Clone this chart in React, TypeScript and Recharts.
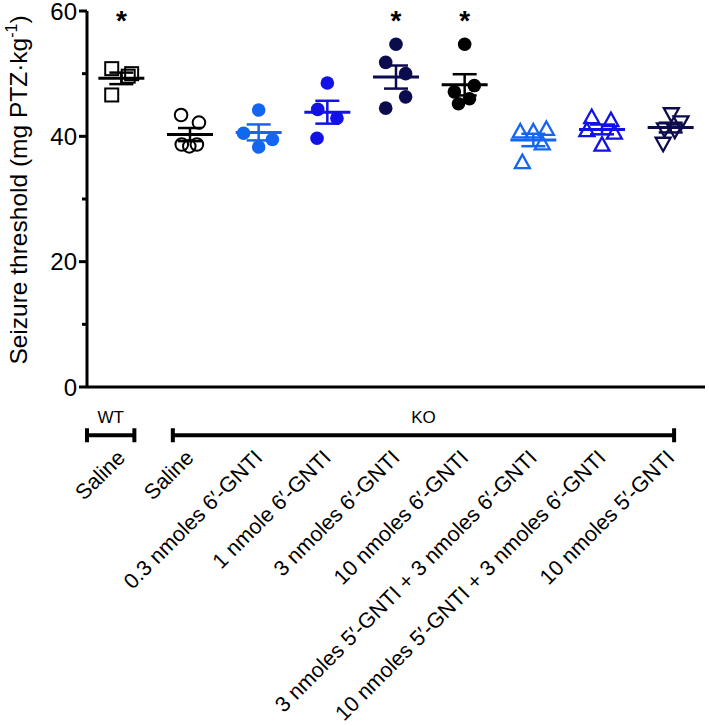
import React from 'react';
import { ScatterChart, Scatter, XAxis, YAxis, ErrorBar, ReferenceLine } from 'recharts';

const FONT = '"Liberation Sans", Arial, sans-serif';

// group labels (x axis)
const groupLabels = [
  'Saline',
  'Saline',
  '0.3 nmoles 6\u2032-GNTI',
  '1 nmole 6\u2032-GNTI',
  '3 nmoles 6\u2032-GNTI',
  '10 nmoles 6\u2032-GNTI',
  '3 nmoles 5\u2032-GNTI + 3 nmoles 6\u2032-GNTI',
  '10 nmoles 5\u2032-GNTI + 3 nmoles 6\u2032-GNTI',
  '10 nmoles 5\u2032-GNTI',
];

// individual animals, mg PTZ/kg
const wtSaline = [50.8, 49.6, 50.0, 46.6];
const koSaline = [43.4, 42.2, 38.7, 38.4, 38.7];
const gnti6_03 = [44.2, 40.5, 39.5, 38.3];
const gnti6_1 = [48.5, 44.3, 42.9, 39.7];
const gnti6_3 = [54.7, 51.8, 50.0, 46.3, 44.5];
const gnti6_10 = [54.7, 48.1, 47.1, 46.0, 45.2];
const gnti5_3_6_3 = [40.7, 40.7, 41.1, 38.8, 35.8];
const gnti5_10_6_3 = [43.0, 42.5, 40.9, 40.5, 38.6];
const gnti5_10 = [43.6, 42.3, 41.2, 41.0, 38.9];

// horizontal scatter of the dots inside each column (category units)
const jitWt = [-0.14, 0.1, 0.15, -0.14];
const jitKo = [-0.13, 0.13, -0.12, -0.01, 0.1];
const jit03 = [0, -0.22, 0.2, 0];
const jit1 = [0, -0.14, 0.14, -0.15];
const jit3 = [0, -0.15, 0.14, 0.14, -0.15];
const jit10 = [0, 0.14, -0.15, 0.07, -0.09];
const jit33 = [-0.19, 0, 0.19, 0.13, -0.16];
const jit103 = [-0.15, 0.13, -0.22, 0.18, 0];
const jit510 = [0.01, 0.15, -0.09, 0.06, -0.11];

const significant = [true, false, false, false, true, true, false, false, false];

const genotypes = [
  { name: 'WT', from: -0.5, to: 0.19 },
  { name: 'KO', from: 0.75, to: 8.05 },
];

const BLACK = '#000000';
const SKY = '#1466f0';
const BLUE = '#1212e6';
const NAVY = '#0b0b4e';

const groups = [
  { values: wtSaline, jitter: jitWt, color: BLACK, marker: 'square' },
  { values: koSaline, jitter: jitKo, color: BLACK, marker: 'ring' },
  { values: gnti6_03, jitter: jit03, color: SKY, marker: 'dot' },
  { values: gnti6_1, jitter: jit1, color: BLUE, marker: 'dot' },
  { values: gnti6_3, jitter: jit3, color: NAVY, marker: 'dot' },
  { values: gnti6_10, jitter: jit10, color: BLACK, marker: 'dot' },
  { values: gnti5_3_6_3, jitter: jit33, color: SKY, marker: 'up' },
  { values: gnti5_10_6_3, jitter: jit103, color: BLUE, marker: 'up' },
  { values: gnti5_10, jitter: jit510, color: NAVY, marker: 'down' },
];

const mean = (v: number[]) => v.reduce((a, b) => a + b, 0) / v.length;
const sem = (v: number[]) => {
  const m = mean(v);
  const sd = Math.sqrt(v.reduce((a, b) => a + (b - m) ** 2, 0) / (v.length - 1));
  return sd / Math.sqrt(v.length);
};

const Marker = (props: any) => {
  const { cx, cy, kind, color } = props;
  if (cx == null || cy == null) return null;
  switch (kind) {
    case 'square':
      return <rect x={cx - 6.5} y={cy - 6.5} width={13} height={13} fill="none" stroke={color} strokeWidth={2} />;
    case 'ring':
      return <circle cx={cx} cy={cy} r={6.3} fill="none" stroke={color} strokeWidth={2} />;
    case 'dot':
      return <circle cx={cx} cy={cy} r={6.8} fill={color} />;
    case 'up':
      return (
        <polygon
          points={`${cx},${cy - 8} ${cx + 7.5},${cy + 5.5} ${cx - 7.5},${cy + 5.5}`}
          fill="none" stroke={color} strokeWidth={2.3} strokeLinejoin="miter"
        />
      );
    case 'down':
      return (
        <polygon
          points={`${cx},${cy + 8} ${cx + 7.5},${cy - 5.5} ${cx - 7.5},${cy - 5.5}`}
          fill="none" stroke={color} strokeWidth={2.3} strokeLinejoin="miter"
        />
      );
    default:
      return null;
  }
};

const MeanLine = (props: any) => {
  const { cx, cy, color } = props;
  if (cx == null || cy == null) return null;
  return <line x1={cx - 23} x2={cx + 23} y1={cy} y2={cy} stroke={color} strokeWidth={3} />;
};

const Star = (props: any) => {
  const { cx, cy } = props;
  if (cx == null || cy == null) return null;
  return (
    <text x={cx} y={cy + 19} textAnchor="middle" fontFamily={FONT} fontWeight="bold" fontSize={28} fill="#000">
      *
    </text>
  );
};

const YTick = (props: any) => {
  const { x, y, payload } = props;
  const v = payload.value;
  const major = v % 20 === 0;
  const axisX = x + 9;
  return (
    <g>
      <line x1={axisX - (major ? 8 : 5)} x2={axisX} y1={y} y2={y} stroke="#000" strokeWidth={3} />
      {major && (
        <text x={axisX - 10} y={y} dy="0.36em" textAnchor="end" fontFamily={FONT} fontSize={24} fill="#000">
          {v}
        </text>
      )}
    </g>
  );
};

const XTick = (props: any) => {
  const { x, payload } = props;
  const label = groupLabels[payload.value];
  if (label == null) return null;
  return (
    <text
      transform={`translate(${x + 5}, 459) rotate(-45)`}
      textAnchor="end" fontFamily={FONT} fontSize={21.5} fill="#000"
    >
      {label}
    </text>
  );
};

const Bracket = (props: any) => {
  const { x1, x2, y1, name } = props;
  if (x1 == null) return null;
  const l = Math.min(x1, x2);
  const r = Math.max(x1, x2);
  return (
    <g>
      <line x1={l} x2={r} y1={y1} y2={y1} stroke="#000" strokeWidth={4} />
      <line x1={l} x2={l} y1={y1 - 7} y2={y1 + 7} stroke="#000" strokeWidth={4} />
      <line x1={r} x2={r} y1={y1 - 7} y2={y1 + 7} stroke="#000" strokeWidth={4} />
      <text x={(l + r) / 2} y={y1 - 12} textAnchor="middle" fontFamily={FONT} fontSize={17} fill="#000">
        {name}
      </text>
    </g>
  );
};

const YLabel = () => (
  <text
    transform="translate(27, 190) rotate(-90)"
    textAnchor="middle" fontFamily={FONT} fontSize={24.5} fill="#000"
  >
    Seizure threshold (mg PTZ·kg
    <tspan dy={-10} fontSize={16}>-1</tspan>
    <tspan dy={10}>)</tspan>
  </text>
);

export default function App() {
  return (
    <div style={{ position: 'absolute', left: 0, top: 0, background: '#fff' }}>
      <ScatterChart width={709} height={726} margin={{ top: 11, right: 4, bottom: 0, left: 1 }}>
        <XAxis
          type="number" dataKey="x" domain={[-0.5, 8.5]} ticks={[0, 1, 2, 3, 4, 5, 6, 7, 8]}
          height={339} tickLine={false} axisLine={{ stroke: '#000', strokeWidth: 3 }}
          tick={<XTick />} interval={0}
        />
        <YAxis
          type="number" dataKey="y" domain={[0, 60]} ticks={[0, 10, 20, 30, 40, 50, 60]}
          width={86} tickSize={8} tickMargin={1} tickLine={false}
          axisLine={{ stroke: '#000', strokeWidth: 3 }} tick={<YTick />} label={<YLabel />}
        />
        {groups.map((g, i) => (
          <Scatter
            key={`pts-${i}`}
            data={g.values.map((v, j) => ({ x: i + g.jitter[j], y: v }))}
            isAnimationActive={false}
            shape={(p: any) => <Marker {...p} kind={g.marker} color={g.color} />}
          />
        ))}
        {groups.map((g, i) => (
          <Scatter
            key={`mean-${i}`}
            data={[{ x: i, y: mean(g.values), err: sem(g.values) }]}
            isAnimationActive={false}
            shape={(p: any) => <MeanLine {...p} color={g.color} />}
          >
            <ErrorBar dataKey="err" direction="y" width={12} strokeWidth={2.5} stroke={g.color} />
          </Scatter>
        ))}
        <Scatter
          data={significant.map((s, i) => (s ? { x: i, y: 60 } : null)).filter(Boolean) as any[]}
          isAnimationActive={false}
          shape={(p: any) => <Star {...p} />}
        />
        {genotypes.map((g) => (
          <ReferenceLine
            key={g.name}
            segment={[{ x: g.from, y: -7.7 }, { x: g.to, y: -7.7 }]}
            ifOverflow="visible"
            shape={(p: any) => <Bracket {...p} name={g.name} />}
          />
        ))}
      </ScatterChart>
    </div>
  );
}
